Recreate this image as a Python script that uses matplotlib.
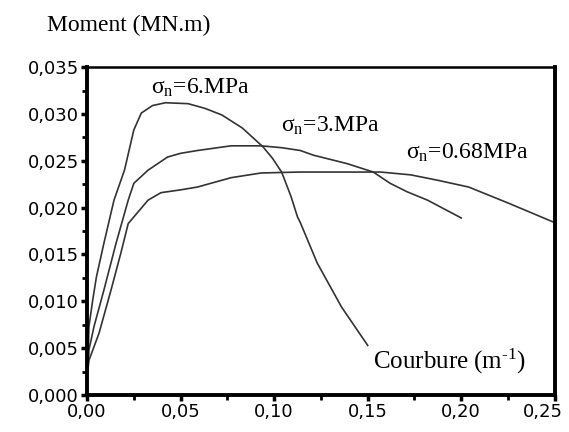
import numpy as np
import matplotlib.pyplot as plt
import matplotlib.transforms as mtransforms
from matplotlib.ticker import MultipleLocator, FuncFormatter

plt.rcParams['mathtext.fontset'] = 'custom'
plt.rcParams['mathtext.rm'] = 'Liberation Serif'
plt.rcParams['mathtext.it'] = 'Liberation Serif:italic'

#%% donnees
# sigma_n = 6 MPa
x6 = [0.0005, 0.001, 0.003, 0.005, 0.009, 0.0144, 0.020, 0.025, 0.029, 0.035, 0.042,
      0.054, 0.063, 0.072, 0.083, 0.094, 0.099, 0.104, 0.109, 0.1125, 0.114, 0.123,
      0.136, 0.150]
y6 = [0.0032, 0.0073, 0.0101, 0.0126, 0.0162, 0.0208, 0.0240, 0.0283, 0.0301, 0.0309,
      0.0312, 0.0311, 0.0306, 0.0299, 0.0285, 0.0265, 0.0253, 0.0238, 0.0212, 0.0190,
      0.0184, 0.0141, 0.0094, 0.0053]

# sigma_n = 3 MPa
x3 = [0.0005, 0.001, 0.0037, 0.009, 0.0155, 0.022, 0.025, 0.0326, 0.043, 0.050, 0.059,
      0.077, 0.093, 0.104, 0.114, 0.121, 0.139, 0.153, 0.162, 0.171, 0.182, 0.200]
y3 = [0.0030, 0.0048, 0.0073, 0.0112, 0.0162, 0.0208, 0.0226, 0.0240, 0.0254, 0.0258,
      0.0261, 0.0266, 0.0266, 0.0264, 0.0261, 0.0256, 0.0247, 0.0238, 0.0226, 0.0217,
      0.0208, 0.0189]

# sigma_n = 0.68 MPa
x068 = [0.0005, 0.001, 0.0064, 0.0128, 0.018, 0.022, 0.0326, 0.0395, 0.050, 0.059,
        0.077, 0.093, 0.113, 0.157, 0.173, 0.188, 0.204, 0.225, 0.250]
y068 = [0.0028, 0.0037, 0.0066, 0.0112, 0.0151, 0.0183, 0.0208, 0.0216, 0.0219, 0.0222,
        0.0232, 0.0237, 0.0238, 0.0238, 0.0235, 0.0229, 0.0222, 0.0205, 0.0184]

labels = [r'$\mathrm{\sigma_n}$=6.MPa', r'$\mathrm{\sigma_n}$=3.MPa', r'$\mathrm{\sigma_n}$=0.68MPa']
label_pos = [(0.0342, 0.0328), (0.1036, 0.0287), (0.1704, 0.0258)]

#%% figure
fig = plt.figure(figsize=(5.69, 4.32), dpi=100)
ax = fig.add_axes([0.153, 0.0856, 0.822, 0.759])

for xs, ys in [(x6, y6), (x3, y3), (x068, y068)]:
    ax.plot(xs, ys, color='#333333', lw=1.2)

for txt, (tx, ty) in zip(labels, label_pos):
    ax.text(tx, ty, txt, fontsize=17, family='Liberation Serif', ha='left', va='center')

ax.text(0.1528, 0.0036, 'Courbure (m$^{\\mathrm{\u2010}1}$)', fontsize=18,
        family='Liberation Serif', ha='left', va='center')
fig.text(0.083, 0.942, 'Moment (MN.m)', fontsize=17, family='Liberation Serif',
         ha='left', va='center')

ax.set_xlim(0, 0.25)
ax.set_ylim(0, 0.035)
ax.xaxis.set_major_locator(MultipleLocator(0.05))
ax.xaxis.set_minor_locator(MultipleLocator(0.025))
ax.yaxis.set_major_locator(MultipleLocator(0.005))
ax.yaxis.set_minor_locator(MultipleLocator(0.0025))
ax.xaxis.set_major_formatter(FuncFormatter(lambda v, p: ('%.2f' % v).replace('.', ',')))
ax.yaxis.set_major_formatter(FuncFormatter(lambda v, p: ('%.3f' % v).replace('.', ',')))

ax.tick_params(which='major', direction='out', length=4, width=2.5, labelsize=13, pad=2)
ax.tick_params(which='minor', direction='out', length=3.5, width=2)
for lab in ax.get_xticklabels() + ax.get_yticklabels():
    lab.set_family('DejaVu Sans')

# label 0,25 decale vers la gauche pour rester dans la figure
fig.canvas.draw()
for tick in ax.xaxis.get_major_ticks():
    if tick.label1.get_text() == '0,25':
        lab = tick.label1
        lab.set_transform(lab.get_transform() + mtransforms.ScaledTranslation(-12/100, 0, fig.dpi_scale_trans))

for s in ['left', 'bottom', 'right']:
    ax.spines[s].set_linewidth(2.8)
ax.spines['top'].set_linewidth(1.8)

plt.savefig('out.png')
